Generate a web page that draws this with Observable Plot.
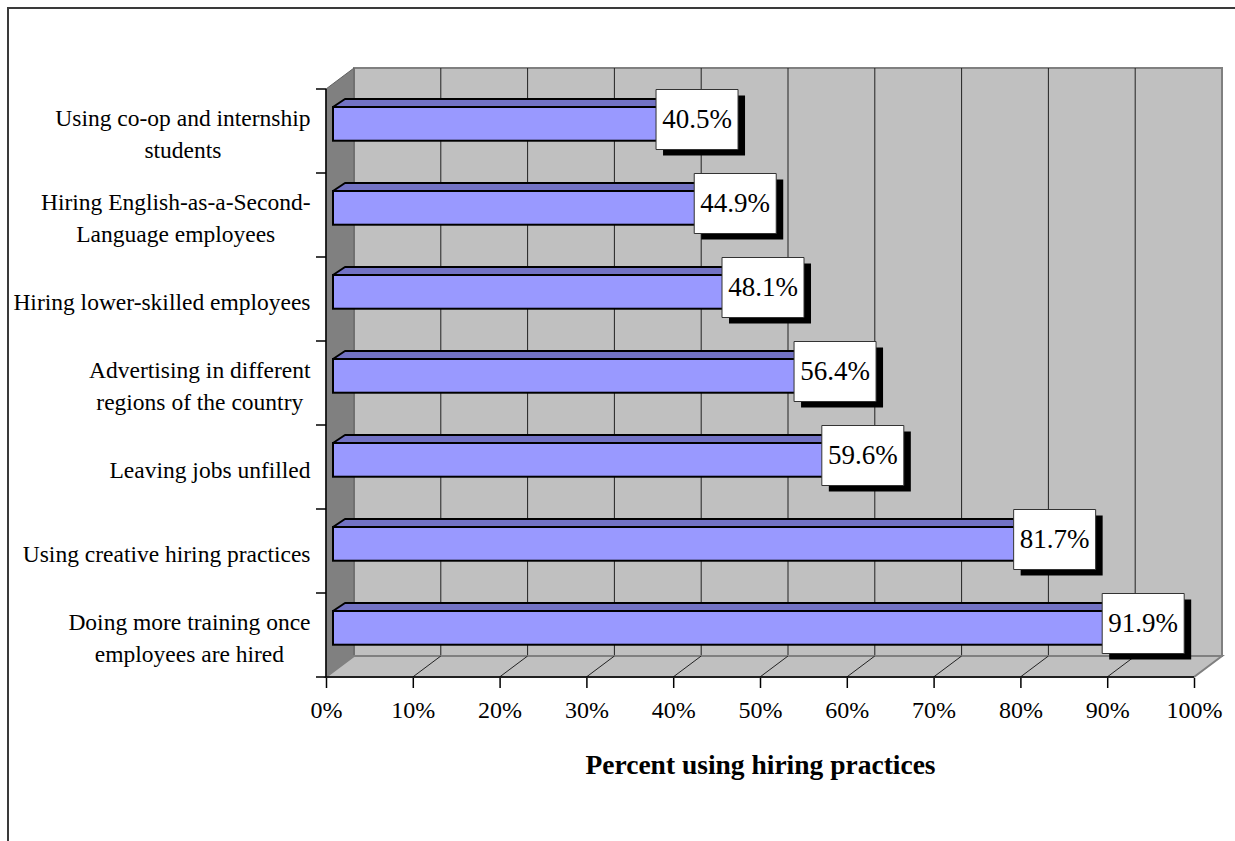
<!DOCTYPE html>
<html>
<head>
<meta charset="utf-8">
<script src="https://cdn.jsdelivr.net/npm/d3@7"></script>
<script src="https://cdn.jsdelivr.net/npm/@observablehq/plot@0.6"></script>
<style>
  html, body { margin: 0; padding: 0; background: #fff; overflow: hidden; }
  #chart { position: relative; width: 1235px; height: 841px; }
  #border { position: absolute; left: 7px; top: 7px; width: 1400px; height: 1000px;
            border-left: 2px solid #3a3a3a; border-top: 2px solid #3a3a3a;
            pointer-events: none; z-index: 1; }
</style>
</head>
<body>
<div id="chart"></div>
<script>
// Hiring practices, top to bottom
const categories = [
  "Using co-op and internship\nstudents",
  "Hiring English-as-a-Second-\nLanguage employees",
  "Hiring lower-skilled employees",
  "Advertising in different\nregions of the country",
  "Leaving jobs unfilled",
  "Using creative hiring practices",
  "Doing more training once\nemployees are hired"
];
// Percent of respondents using each practice
const values = [40.5, 44.9, 48.1, 56.4, 59.6, 81.7, 91.9];
const xTicks = [0, 10, 20, 30, 40, 50, 60, 70, 80, 90, 100];
const axisTitle = "Percent using hiring practices";

const rows = categories.map((category, i) => ({
  category,
  value: values[i],
  label: values[i].toFixed(1) + "%"
}));

// Pseudo-3D geometry, in pixels
const WALL = {dx: 28, dy: -21};                       // depth of the chart box
const BAR = {shift: 7, top: 18, height: 34, dx: 12, dy: -8};
const BOX = {w: 82, h: 60, dx: 19, dy: -12, shadowX: 7, shadowY: 6};

const serif = "'Liberation Serif', 'Times New Roman', serif";
const labelSize = 23.5;

// Back wall, side wall, floor and the front axis lines
function chartBox(index, scales) {
  const {x, y} = scales;
  const bw = y.bandwidth();
  const x0 = x(0), x1 = x(100);
  const yTop = y(categories[0]);
  const yBot = y(categories[categories.length - 1]) + bw;
  const {dx, dy} = WALL;
  const g = d3.create("svg:g");
  // back wall
  g.append("rect")
    .attr("x", x0 + dx).attr("y", yTop + dy)
    .attr("width", x1 - x0).attr("height", yBot - yTop)
    .attr("fill", "#c0c0c0").attr("stroke", "#808080").attr("stroke-width", 2);
  // grid on the back wall
  for (const t of xTicks.slice(1, -1)) {
    g.append("line")
      .attr("x1", x(t) + dx).attr("x2", x(t) + dx)
      .attr("y1", yTop + dy).attr("y2", yBot + dy)
      .attr("stroke", "#222").attr("stroke-width", 1);
  }
  // left side wall
  g.append("path")
    .attr("d", `M${x0},${yTop}L${x0 + dx},${yTop + dy}L${x0 + dx},${yBot + dy}L${x0},${yBot}Z`)
    .attr("fill", "#808080").attr("stroke", "#606060").attr("stroke-width", 1);
  // floor
  g.append("path")
    .attr("d", `M${x0},${yBot}L${x1},${yBot}L${x1 + dx},${yBot + dy}L${x0 + dx},${yBot + dy}Z`)
    .attr("fill", "#c0c0c0").attr("stroke", "#808080").attr("stroke-width", 2);
  for (const t of xTicks.slice(1, -1)) {
    g.append("line")
      .attr("x1", x(t)).attr("y1", yBot)
      .attr("x2", x(t) + dx).attr("y2", yBot + dy)
      .attr("stroke", "#222").attr("stroke-width", 1);
  }
  // front axis lines
  g.append("path")
    .attr("d", `M${x0},${yTop}V${yBot}H${x1}`)
    .attr("fill", "none").attr("stroke", "#000").attr("stroke-width", 1.5);
  // category ticks at band boundaries
  for (let i = 0; i <= categories.length; ++i) {
    const yy = yTop + i * bw;
    g.append("line")
      .attr("x1", x0 - 10).attr("x2", x0)
      .attr("y1", yy).attr("y2", yy)
      .attr("stroke", "#000").attr("stroke-width", 1.5);
  }
  return g.node();
}

// Top and end faces of each bar
function barDepth(index, scales) {
  const {x, y} = scales;
  const g = d3.create("svg:g").attr("stroke", "#000").attr("stroke-width", 2)
    .attr("stroke-linejoin", "round");
  for (const r of rows) {
    const xs = x(0) + BAR.shift, xe = x(r.value) + BAR.shift;
    const yt = y(r.category) + BAR.top;
    g.append("path")
      .attr("d", `M${xs},${yt}L${xe},${yt}L${xe + BAR.dx},${yt + BAR.dy}L${xs + BAR.dx},${yt + BAR.dy}Z`)
      .attr("fill", "#7272c4");
    g.append("path")
      .attr("d", `M${xe},${yt}L${xe + BAR.dx},${yt + BAR.dy}L${xe + BAR.dx},${yt + BAR.dy + BAR.height}L${xe},${yt + BAR.height}Z`)
      .attr("fill", "#4d4d80");
  }
  return g.node();
}

// Rectangular symbol for the value boxes
const boxSymbol = {
  draw(context) {
    context.rect(-BOX.w / 2, -BOX.h / 2, BOX.w, BOX.h);
  }
};

// Category labels: lines centred within each label, block right-aligned
const measure = document.createElement("canvas").getContext("2d");
measure.font = `${labelSize}px 'Liberation Serif'`;
const halfWidth = (c) => d3.max(c.split("\n"), (l) => measure.measureText(l).width) / 2;
const bandwidth = (678 - 88) / categories.length;

const chart = Plot.plot({
  width: 1235,
  height: 841,
  marginLeft: 326,
  marginRight: 41,
  marginTop: 88,
  marginBottom: 163,
  style: {fontFamily: serif, fontSize: "24px", background: "transparent", color: "#000", overflow: "visible"},
  x: {domain: [0, 100], axis: null},
  y: {type: "band", domain: categories, padding: 0, axis: null},
  marks: [
    chartBox,
    barDepth,
    Plot.barX(rows, {
      x: "value", y: "category", dx: BAR.shift,
      insetTop: BAR.top, insetBottom: bandwidth - BAR.top - BAR.height,
      fill: "#9999ff", stroke: "#000", strokeWidth: 2
    }),
    Plot.dot(rows, {
      x: "value", y: "category", symbol: boxSymbol, r: 1,
      dx: BOX.dx + BOX.shadowX, dy: BOX.dy + BOX.shadowY, fill: "#000", stroke: "none"
    }),
    Plot.dot(rows, {
      x: "value", y: "category", symbol: boxSymbol, r: 1,
      dx: BOX.dx, dy: BOX.dy, fill: "#fff", stroke: "#333", strokeWidth: 1
    }),
    Plot.text(rows, {
      x: "value", y: "category", text: "label",
      dx: BOX.dx, dy: BOX.dy, fontSize: 27, fill: "#000"
    }),
    Plot.axisX({
      ticks: xTicks, tickSize: 10, tickPadding: 12, tickFormat: (d) => d + "%",
      label: null, fontSize: 24, strokeWidth: 1.5
    }),
    ...categories.map((c) => Plot.text([c], {
      y: (d) => d, frameAnchor: "left", textAnchor: "middle",
      dx: -16 - halfWidth(c), lineHeight: 1.4, fontSize: labelSize, fill: "#000"
    })),
    Plot.text([axisTitle], {
      frameAnchor: "bottom", dy: 95, fontSize: 27.5, fontWeight: "bold", fill: "#000"
    })
  ]
});

const root = document.getElementById("chart");
root.appendChild(chart);
const border = document.createElement("div");
border.id = "border";
root.appendChild(border);
</script>
</body>
</html>
